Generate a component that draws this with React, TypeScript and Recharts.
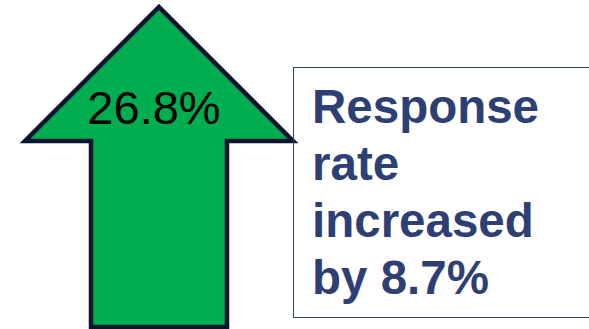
import { BarChart, Bar, XAxis, YAxis, LabelList } from 'recharts';

const categories = ['Response rate'];
const rateValues = [26.8];
const increaseValues = [8.7];
const calloutLines = ['Response', 'rate', 'increased', `by ${increaseValues[0]}%`];

const chartData = categories.map((name, i) => ({ name, rate: rateValues[i] }));

const ARROW_GREEN = '#00ad4f';
const ARROW_STROKE = '#0d1530';
const NAVY = '#2e3f74';

function ArrowShape(props: any) {
  const { x, y, width, height } = props;
  const headH = 134;
  const headOut = 66;
  const cx = x + width / 2;
  const bottom = y + height;
  const d = [
    `M${cx},${y}`,
    `L${x + width + headOut},${y + headH}`,
    `L${x + width},${y + headH}`,
    `L${x + width},${bottom}`,
    `L${x},${bottom}`,
    `L${x},${y + headH}`,
    `L${x - headOut},${y + headH}`,
    'Z',
  ].join(' ');
  return <path d={d} fill={ARROW_GREEN} stroke={ARROW_STROKE} strokeWidth={4.5} strokeLinejoin="miter" />;
}

function RateLabel(props: any) {
  const { x, y, width, value } = props;
  return (
    <text
      x={x + width / 2 - 5}
      y={y + 117}
      textAnchor="middle"
      fontFamily="'Liberation Sans', Arial, sans-serif"
      fontSize={47}
      fill="#000"
    >
      {`${value}%`}
    </text>
  );
}

export default function App() {
  return (
    <div style={{ position: 'fixed', left: 0, top: 0, width: 589, height: 329, background: '#fff', overflow: 'hidden' }}>
      <BarChart width={318} height={329} data={chartData} margin={{ top: 7, right: 0, bottom: 2, left: 0 }}>
        <XAxis dataKey="name" hide />
        <YAxis hide domain={[0, rateValues[0]]} />
        <Bar dataKey="rate" barSize={136} shape={<ArrowShape />} isAnimationActive={false}>
          <LabelList dataKey="rate" content={<RateLabel />} />
        </Bar>
      </BarChart>
      <div
        style={{
          position: 'absolute',
          left: 293,
          top: 67,
          width: 310,
          height: 251,
          boxSizing: 'border-box',
          border: `1.5px solid ${NAVY}`,
          padding: '10px 0 0 18px',
          fontFamily: "'Liberation Sans', Arial, sans-serif",
          fontWeight: 700,
          fontSize: 47.5,
          lineHeight: '57px',
          color: NAVY,
        }}
      >
        {calloutLines.map((line) => (
          <div key={line} style={{ whiteSpace: 'nowrap' }}>
            {line}
          </div>
        ))}
      </div>
    </div>
  );
}
